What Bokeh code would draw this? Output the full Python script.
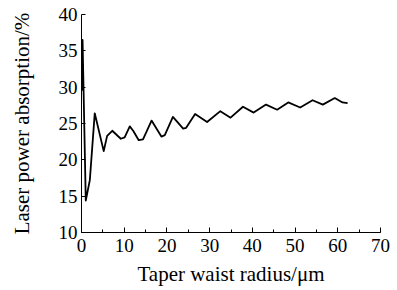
from bokeh.plotting import figure
from bokeh.models import Range1d, SingleIntervalTicker
from bokeh.embed import file_html
from bokeh.resources import INLINE

radius = [0.1, 0.25, 1.0, 1.95, 3.1, 5.2, 6.0, 7.2, 9.2, 10.1, 11.3, 12.1, 13.4, 14.4,
          16.4, 18.7, 19.5, 21.4, 23.8, 24.5, 26.6, 29.4, 32.5, 34.9, 37.8, 40.3,
          43.2, 45.8, 48.4, 51.2, 54.1, 56.5, 59.3, 61.1, 62.3]
absorption = [29.5, 36.5, 14.4, 17.2, 26.4, 21.2, 23.3, 24.0, 22.9, 23.1, 24.6, 24.0, 22.7, 22.8,
              25.4, 23.2, 23.4, 25.9, 24.3, 24.4, 26.3, 25.2, 26.7, 25.8, 27.3, 26.5,
              27.6, 26.9, 27.9, 27.2, 28.2, 27.6, 28.5, 27.9, 27.8]

FONT = "Liberation Serif"

p = figure(width=397, height=290, output_backend="svg", toolbar_location=None,
           x_range=Range1d(0, 70), y_range=Range1d(10, 40),
           min_border_left=81, min_border_right=17, min_border_top=14, min_border_bottom=58)
p.outline_line_color = None
p.xgrid.visible = False
p.ygrid.visible = False
p.background_fill_color = "white"

p.line(radius, absorption, line_color="black", line_width=1.8, line_join="round")

xa = p.xaxis[0]
xa.ticker = SingleIntervalTicker(interval=10, num_minor_ticks=2)
xa.major_tick_in = 5
xa.major_tick_out = 0
xa.minor_tick_in = 3
xa.minor_tick_out = 0
xa.axis_label = "Taper waist radius/\u03bcm"
xa.axis_label_text_font = FONT
xa.axis_label_text_font_style = "normal"
xa.axis_label_text_font_size = "21px"
xa.major_label_text_font = FONT
xa.major_label_text_font_size = "19px"
xa.major_label_standoff = 6
xa.axis_label_standoff = 7
xa.axis_line_color = "black"
xa.axis_label_text_color = "black"
xa.major_label_text_color = "black"

ya = p.yaxis[0]
ya.ticker = SingleIntervalTicker(interval=5, num_minor_ticks=0)
ya.major_tick_in = 4
ya.major_tick_out = 0
ya.minor_tick_in = 0
ya.minor_tick_out = 0
ya.axis_label = "Laser power absorption/%"
ya.axis_label_text_font = FONT
ya.axis_label_text_font_style = "normal"
ya.axis_label_text_font_size = "21px"
ya.major_label_text_font = FONT
ya.major_label_text_font_size = "19px"
ya.major_label_standoff = 4
ya.axis_label_standoff = 22
ya.axis_line_color = "black"
ya.axis_label_text_color = "black"
ya.major_label_text_color = "black"

open("out.html", "w").write(file_html(p, INLINE))
